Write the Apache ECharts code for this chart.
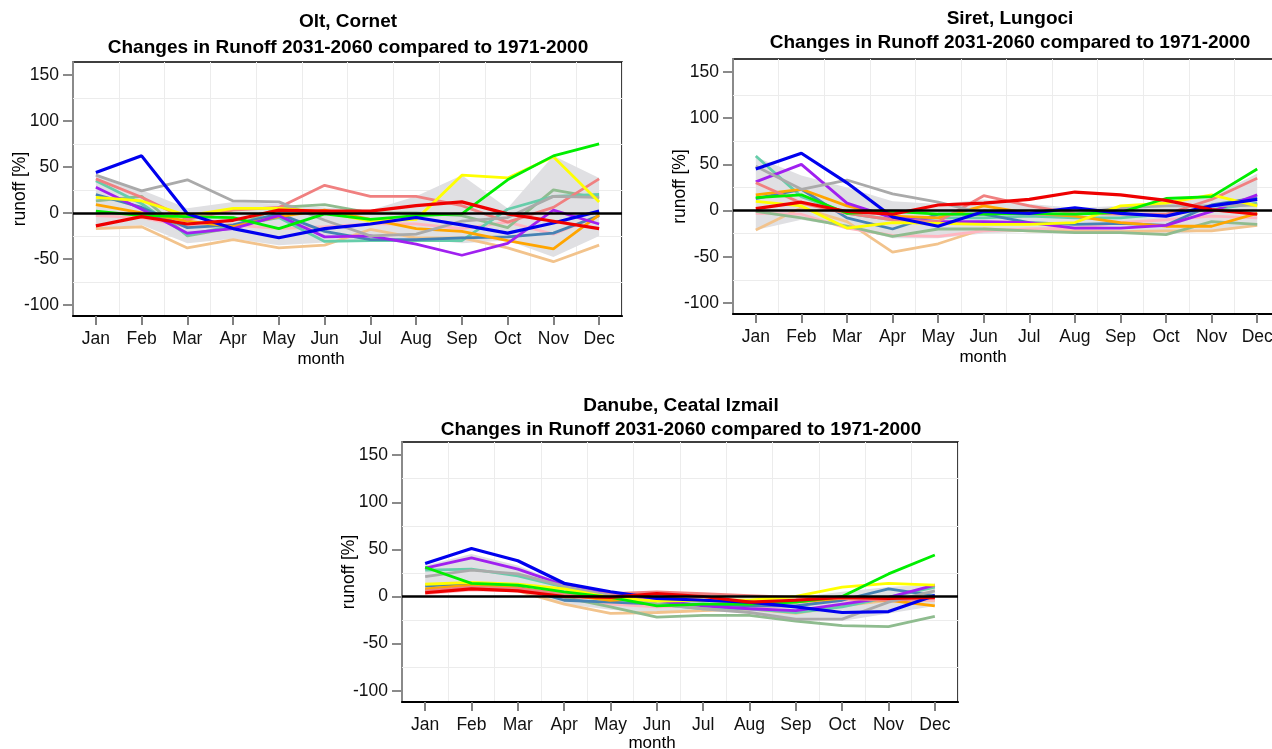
<!DOCTYPE html>
<html>
<head>
<meta charset="utf-8">
<script src="https://cdn.jsdelivr.net/npm/echarts@6/dist/echarts.min.js"></script>
<style>html,body{margin:0;padding:0;background:#fff}#c{width:1272px;height:749px}</style>
</head>
<body>
<div id="c"></div>
<script>
// ---------- axis / tick labels ----------
const months = ['Jan','Feb','Mar','Apr','May','Jun','Jul','Aug','Sep','Oct','Nov','Dec'];
const yTicks = [-100, -50, 0, 50, 100, 150];
const gridValues = [-75, -25, 25, 75, 125];
const yMin = -112, yMax = 164;

// ---------- Olt, Cornet ----------
const olt_blue        = [44, 62, -1, -17, -27, -17, -12, -5, -13, -22, -11, 2];
const olt_green       = [2, -3, -4, -5, -17, -1, -7, -3, -1, 36, 62, 75];
const olt_yellow      = [17, 13, -3, 5, 5, 1, -9, -7, 41, 38, 61, 12];
const olt_red         = [-14, -4, -12, -8, 3, 2, 2, 8, 12, -1, -9, -17];
const olt_grey        = [41, 24, 36, 13, 12, -8, -25, -23, -9, -5, 18, 17];
const olt_lightcoral  = [37, 17, -7, 3, 6, 30, 18, 18, 8, -10, 6, 37];
const olt_purple      = [28, 4, -22, -17, -3, -26, -25, -34, -46, -33, 3, -12];
const olt_orange      = [9, 0, -9, -15, -4, 3, -7, -17, -20, -30, -39, -2];
const olt_steelblue   = [20, 6, -16, -13, -1, -20, -29, -29, -27, -26, -22, -3];
const olt_aquamarine  = [35, 10, -24, -14, -5, -31, -30, -30, -30, 4, 18, 20];
const olt_darkseagreen= [13, 18, -25, -16, 6, 9, 0, 0, -3, -16, 25, 16];
const olt_pink        = [-3, -5, -15, -13, -17, -15, -12, -12, -17, -10, -23, -3];
const olt_burlywood   = [-17, -15, -38, -29, -38, -35, -18, -27, -27, -38, -53, -35];
const olt_bandLow     = [-17, -13, -33, -28, -35, -32, -28, -28, -33, -30, -48, -25];
const olt_bandHigh    = [42, 25, 5, 12, 10, 6, 3, 18, 41, 5, 62, 38];

// ---------- Siret, Lungoci ----------
const sir_blue        = [45, 62, 30, -7, -17, -1, -3, 3, -3, -6, 5, 12];
const sir_green       = [14, 17, -3, -1, -4, -4, -3, -4, -2, 13, 15, 45];
const sir_yellow      = [10, 5, -19, -13, -14, -15, -15, -13, 5, 8, 17, 5];
const sir_red         = [2, 9, -1, -4, 6, 8, 12, 20, 17, 11, 1, -4];
const sir_grey        = [48, 23, 33, 18, 9, -3, -4, -4, 3, 5, 5, 6];
const sir_lightcoral  = [30, 8, -3, -10, -12, 16, 5, -3, -4, -4, 12, 35];
const sir_purple      = [31, 50, 8, -8, -12, -12, -13, -19, -19, -16, -1, 17];
const sir_orange      = [17, 23, 5, -6, -8, 5, -3, -6, -13, -17, -17, -3];
const sir_steelblue   = [13, 23, -8, -20, -4, -4, -13, -15, -14, -16, 6, 14];
const sir_aquamarine  = [59, 15, -3, -10, -8, -8, -6, -8, -8, -4, 1, 8];
const sir_darkseagreen= [-1, -8, -17, -28, -20, -20, -22, -24, -24, -26, -12, -15];
const sir_pink        = [-3, -4, -19, -27, -28, -22, -20, -19, -13, -10, -6, -8];
const sir_burlywood   = [-21, 3, -12, -45, -36, -20, -22, -22, -23, -22, -22, -16];
const sir_bandLow     = [-21, -10, -18, -30, -30, -25, -23, -24, -24, -26, -22, -16];
const sir_bandHigh    = [58, 38, 25, 10, 7, 12, 7, 3, 5, 8, 15, 40];

// ---------- Danube, Ceatal Izmail ----------
const dan_blue        = [35, 51, 38, 14, 5, -2, -4, -6, -11, -17, -16, 1];
const dan_green       = [31, 14, 12, 5, -1, -10, -8, -8, -6, 0, 24, 44];
const dan_yellow      = [13, 15, 13, 8, -1, -5, -4, -4, 0, 10, 14, 12];
const dan_red         = [4, 8, 6, 0, -1, 3, 0, -6, -4, -1, -2, -1];
const dan_grey        = [21, 28, 24, 11, 1, -8, -13, -17, -24, -24, -6, 6];
const dan_lightcoral  = [6, 10, 8, 3, 3, 5, 3, 1, -1, -2, -4, -2];
const dan_purple      = [30, 41, 29, 12, 3, -4, -10, -13, -15, -8, -1, 12];
const dan_orange      = [8, 12, 9, 2, -4, -1, -4, -6, -6, -2, -4, -10];
const dan_steelblue   = [11, 14, 10, -4, -6, -8, -8, -10, -10, -4, 8, 1];
const dan_aquamarine  = [28, 29, 22, 10, -1, -8, -13, -13, -17, -11, -1, 10];
const dan_darkseagreen= [7, 12, 10, -1, -11, -22, -20, -20, -26, -31, -32, -21];
const dan_pink        = [3, 7, 6, -2, -8, -11, -10, -11, -10, -4, -2, -4];
const dan_burlywood   = [5, 9, 6, -8, -18, -17, -15, -13, -18, -10, -4, -4];
const dan_bandLow     = [3, 7, 6, -8, -14, -18, -16, -17, -23, -26, -18, -10];
const dan_bandHigh    = [33, 45, 33, 13, 4, 4, 3, 1, -1, 5, 10, 13];

// ---------- styles ----------
const lineOrder = ['burlywood','pink','darkseagreen','aquamarine','steelblue','orange','purple','lightcoral','grey','yellow','green','blue','red'];
const colors = {
  burlywood:'#f2c38c', pink:'#ffb6c1', darkseagreen:'#8fbc8f', aquamarine:'#66cdaa',
  steelblue:'#4682b4', orange:'#ffa500', purple:'#a020f0', lightcoral:'#f08080',
  grey:'#aaaaaa', yellow:'#ffff00', green:'#00ee00', blue:'#0000ee', red:'#ee0000'
};
const FONT = '"Liberation Sans", Arial, sans-serif';

const panels = [
  { left:73, top:62, width:549, height:254, name:'Olt, Cornet', titleX:348, titleTop:9, lh:26, monthX:321, monthY:351,
    lines:{blue:olt_blue, green:olt_green, yellow:olt_yellow, red:olt_red, grey:olt_grey, lightcoral:olt_lightcoral,
      purple:olt_purple, orange:olt_orange, steelblue:olt_steelblue, aquamarine:olt_aquamarine,
      darkseagreen:olt_darkseagreen, pink:olt_pink, burlywood:olt_burlywood},
    low:olt_bandLow, high:olt_bandHigh },
  { left:733, top:59, width:547, height:255, name:'Siret, Lungoci', titleX:1010, titleTop:7, lh:24, monthX:983, monthY:349,
    lines:{blue:sir_blue, green:sir_green, yellow:sir_yellow, red:sir_red, grey:sir_grey, lightcoral:sir_lightcoral,
      purple:sir_purple, orange:sir_orange, steelblue:sir_steelblue, aquamarine:sir_aquamarine,
      darkseagreen:sir_darkseagreen, pink:sir_pink, burlywood:sir_burlywood},
    low:sir_bandLow, high:sir_bandHigh },
  { left:402, top:442, width:556, height:260, name:'Danube, Ceatal Izmail', titleX:681, titleTop:394, lh:24, monthX:652, monthY:735,
    lines:{blue:dan_blue, green:dan_green, yellow:dan_yellow, red:dan_red, grey:dan_grey, lightcoral:dan_lightcoral,
      purple:dan_purple, orange:dan_orange, steelblue:dan_steelblue, aquamarine:dan_aquamarine,
      darkseagreen:dan_darkseagreen, pink:dan_pink, burlywood:dan_burlywood},
    low:dan_bandLow, high:dan_bandHigh }
];

const option = { animation:false, backgroundColor:'#fff', title:[], grid:[], xAxis:[], yAxis:[], series:[] };

panels.forEach((p, i) => {
  option.title.push({
    text: p.name + '\nChanges in Runoff 2031-2060 compared to 1971-2000',
    left: p.titleX, top: p.titleTop, textAlign:'center', padding:0,
    textStyle:{ fontFamily:FONT, fontWeight:'bold', fontSize:19, color:'#000', lineHeight:p.lh }
  });
  option.title.push({
    text:'month', left:p.monthX, top:p.monthY, textAlign:'center', padding:0,
    textStyle:{ fontFamily:FONT, fontWeight:'normal', fontSize:17, color:'#000' }
  });
  option.grid.push({ left:p.left, top:p.top, width:p.width, height:p.height, show:true,
    borderColor:'#000', borderWidth:1.5, backgroundColor:'#fff', containLabel:false, outerBoundsMode:'none' });
  option.xAxis.push({
    type:'category', gridIndex:i, data:months, boundaryGap:true,
    axisLine:{ show:true, onZero:false, lineStyle:{ color:'#000', width:2 } },
    axisTick:{ show:true, alignWithLabel:true, length:9, lineStyle:{ color:'#808080', width:2 } },
    axisLabel:{ margin:14, fontFamily:FONT, fontSize:17.5, color:'#111' },
    splitLine:{ show:true, lineStyle:{ color:'#ececec', width:1 } }
  });
  option.yAxis.push({
    type:'value', gridIndex:i, min:yMin, max:yMax,
    name:'runoff [%]', nameLocation:'middle', nameGap:44, nameRotate:90, nameMoveOverlap:false,
    nameTextStyle:{ fontFamily:FONT, fontSize:17.5, color:'#000' },
    axisLine:{ show:true, onZero:false, lineStyle:{ color:'#8a8a8a', width:2 } },
    axisTick:{ show:true, length:10, customValues:yTicks, lineStyle:{ color:'#8a8a8a', width:2 } },
    axisLabel:{ margin:14, customValues:yTicks, fontFamily:FONT, fontSize:17.5, color:'#111' },
    splitLine:{ show:false }
  });
  // ensemble range band
  option.series.push({
    type:'line', xAxisIndex:i, yAxisIndex:i, data:p.low, stack:'band'+i, stackStrategy:'all',
    symbol:'none', silent:true, lineStyle:{ opacity:0 },
    markLine:{ silent:true, symbol:'none', z:1, label:{ show:false },
      lineStyle:{ color:'#ececec', width:1, type:'solid' },
      data: gridValues.map(v => ({ yAxis:v })) }
  });
  option.series.push({
    type:'line', xAxisIndex:i, yAxisIndex:i, data:p.high.map((h, k) => h - p.low[k]),
    stack:'band'+i, stackStrategy:'all', symbol:'none', silent:true,
    lineStyle:{ opacity:0 }, areaStyle:{ color:'#e0e0e3', opacity:1 }
  });
  lineOrder.forEach(c => {
    option.series.push({
      type:'line', xAxisIndex:i, yAxisIndex:i, data:p.lines[c], symbol:'none', silent:true,
      lineStyle:{ color:colors[c], width:(c === 'blue' || c === 'red') ? 3.2 : 2.8 }
    });
  });
  // zero reference line
  option.series.push({
    type:'line', xAxisIndex:i, yAxisIndex:i, data:months.map(() => null), symbol:'none', silent:true,
    markLine:{ silent:true, symbol:'none', z:10, label:{ show:false },
      lineStyle:{ color:'#000', width:2.5, type:'solid' }, data:[{ yAxis:0 }] }
  });
});

const chart = echarts.init(document.getElementById('c'), null, { renderer:'canvas' });
chart.setOption(option);
</script>
</body>
</html>
